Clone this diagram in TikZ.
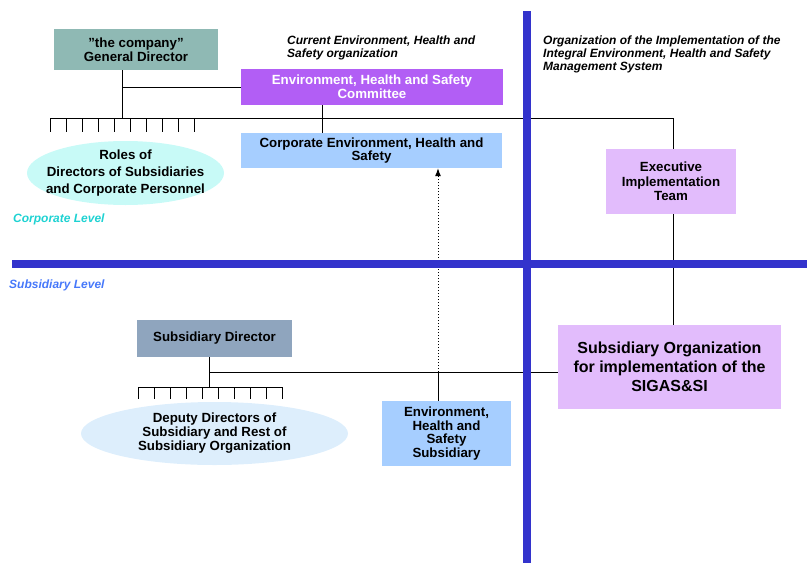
\documentclass[tikz,border=0pt]{standalone}
\usepackage{fontspec}
\setmainfont{Liberation Sans}
\usetikzlibrary{arrows.meta,shapes.geometric}

\definecolor{gdfill}{HTML}{8FB9B4}
\definecolor{commfill}{HTML}{B25EF5}
\definecolor{corpfill}{HTML}{A6CEFF}
\definecolor{rolesfill}{HTML}{C8FAF7}
\definecolor{execfill}{HTML}{E2BCFC}
\definecolor{subdirfill}{HTML}{8FA5BE}
\definecolor{deputyfill}{HTML}{DDEEFC}
\definecolor{divider}{HTML}{3333CC}
\definecolor{corplevel}{HTML}{1ED2D2}
\definecolor{sublevel}{HTML}{4678FA}

\newcommand{\dq}{{\char`\"}}

\begin{document}
\begin{tikzpicture}[x=1pt,y=-1pt,
  box/.style={rectangle, draw=none, inner sep=0pt, align=center,
    font=\bfseries\fontsize{13.3}{13.6}\selectfont},
  oval/.style={ellipse, draw=none, inner sep=0pt},
  ovaltext/.style={inner sep=0pt, align=center,
    font=\bfseries\fontsize{13.3}{17}\selectfont},
  link/.style={draw=black, line width=1pt},
  heading/.style={anchor=base west, inner sep=0pt, align=left,
    font=\bfseries\itshape\fontsize{12}{13.3}\selectfont},
  levellabel/.style={anchor=base west, inner sep=0pt,
    font=\bfseries\itshape\fontsize{12}{13.3}\selectfont},
  divline/.style={draw=divider, line width=8pt},
]
\useasboundingbox (0,0) rectangle (807,563);

% ---- boxes and ovals ----
\node[box, fill=gdfill, minimum width=164, minimum height=41] (gd) at (136,49.5)
  {\dq the company\dq\\General Director};
\node[box, fill=commfill, text=white, minimum width=262, minimum height=36] (comm) at (372,87)
  {Environment, Health and Safety\\Committee};
\node[box, fill=corpfill, minimum width=261, minimum height=35] (corp) at (371.5,150.5)
  {Corporate Environment, Health and\\Safety};
\node[oval, fill=rolesfill, minimum width=197, minimum height=64] (roles) at (125.5,173) {};
\node[ovaltext] (rolestext) at (roles.center)
  {Roles of\\Directors of Subsidiaries\\and Corporate Personnel};
\node[box, fill=execfill, minimum width=130, minimum height=65,
  font=\bfseries\fontsize{13.3}{14.5}\selectfont] (exec) at (671,181.5)
  {Executive\\Implementation\\Team};
\node[box, fill=subdirfill, minimum width=155, minimum height=37] (subdir) at (214.5,338.5)
  {Subsidiary Director};
\node[oval, fill=deputyfill, minimum width=267, minimum height=63] (deputy) at (214.5,433.5) {};
\node[ovaltext, font=\bfseries\fontsize{13.3}{14}\selectfont] (deputytext) at (deputy.center)
  {Deputy Directors of\\Subsidiary and Rest of\\Subsidiary Organization};
\node[box, fill=corpfill, minimum width=129, minimum height=65] (ehssub) at (446.5,433.5)
  {Environment,\\Health and\\Safety\\Subsidiary};
\node[box, fill=execfill, minimum width=223, minimum height=84,
  font=\bfseries\fontsize{16}{19}\selectfont] (suborg) at (669.5,367)
  {Subsidiary Organization\\for implementation of the\\SIGAS\&SI};

% ---- junction points ----
\coordinate (gdj) at (122,118);
\coordinate (barL) at (50,118);
\coordinate (barR) at (673,118);
\coordinate (cj) at (322,118);
\coordinate (sj) at (209,387);
\coordinate (hj) at (209,372);
\coordinate (ej) at (438,372);

% ---- corporate connectors ----
\draw[link] (gd.south -| gdj) -- (gdj);
\draw[link] (comm.west) -- (comm.west -| gdj);
\draw[link] (barL) -- (barR) -- (exec.north -| barR);
\foreach \i in {0,...,9} \draw[link] (50+16*\i,118) -- ++(0,14);
\draw[link] (comm.south -| cj) -- (corp.north -| cj);
\draw[link] (exec.south -| barR) -- (suborg.north -| barR);

% ---- subsidiary connectors ----
\draw[link] (subdir.south -| sj) -- (sj);
\draw[link] (138,387) -- (282,387);
\foreach \i in {0,...,9} \draw[link] (138+16*\i,387) -- ++(0,12);
\draw[link] (hj) -- (hj -| suborg.west);
\draw[link] (ej) -- (ehssub.north -| ej);
\draw[link, dotted, -{Latex[length=8pt,width=6pt]}] (ej) -- (corp.south -| ej);

% ---- dividing bars ----
\coordinate (vtop) at (527,11);
\coordinate (vbot) at (527,563);
\coordinate (hl) at (12,264);
\coordinate (hr) at (807,264);
\draw[divline] (vtop) -- (vbot);
\draw[divline] (hl) -- (hr);

% ---- headings and level labels (anchored on the last line's baseline) ----
\node[heading] (curhead) at (287,57.5)
  {Current Environment, Health and\\Safety organization};
\node[heading] (imphead) at (543,70.8)
  {Organization of the Implementation of the\\Integral Environment, Health and Safety\\Management System};
\node[levellabel, text=corplevel] (corplab) at (13,222) {Corporate Level};
\node[levellabel, text=sublevel] (sublab) at (9,288) {Subsidiary Level};
\end{tikzpicture}
\end{document}
